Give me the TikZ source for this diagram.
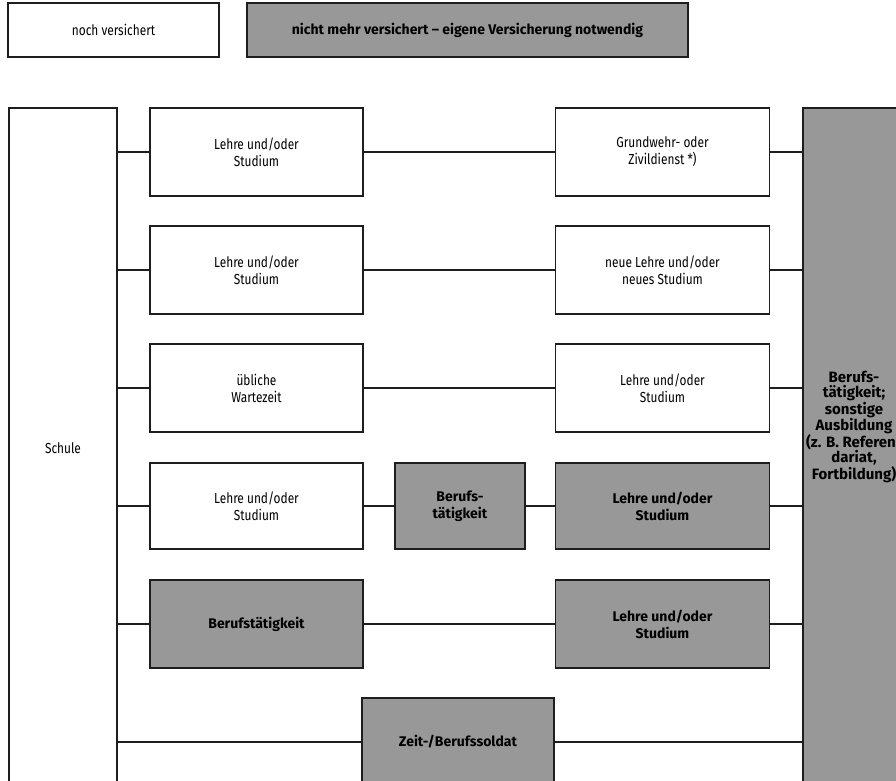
\documentclass[tikz,border=0pt]{standalone}
\usepackage{fontspec}
\setmainfont{Fira Sans}[FakeStretch=0.82]
\newfontfamily\boldfam{Fira Sans}[UprightFont=*-Bold, Ligatures=TeX]
\usetikzlibrary{positioning}
\definecolor{boxgray}{RGB}{152,152,152}
\definecolor{edge}{RGB}{30,30,30}
\begin{document}
\begin{tikzpicture}[x=1pt,y=-1pt,
  base/.style={draw=edge, line width=1.1pt, rectangle, inner sep=0pt, align=center},
  wbox/.style={base, fill=white, font=\fontsize{14.5}{17}\selectfont},
  gbox/.style={base, fill=boxgray, font=\boldfam\fontsize{14}{17}\selectfont},
  conn/.style={draw=edge, line width=1.1pt}]
\useasboundingbox (0,0) rectangle (896,780);
\clip (0,0) rectangle (896,780);
% legend
\node[wbox, minimum width=211pt, minimum height=54pt] (legw) at (113.5,30) {noch versichert};
\node[gbox, minimum width=441pt, minimum height=54pt] (legg) at (467.5,30) {nicht mehr versichert – eigene Versicherung notwendig};
% trunk boxes
\node[wbox, minimum width=108pt, minimum height=680pt] (schule) at (63,448) {Schule};
\node[gbox, minimum width=100pt, minimum height=680pt,
  label={[font=\boldfam\fontsize{15}{14.7}\selectfont, align=center, yshift=21pt, xshift=1pt]center:Berufs-\\tätigkeit;\\sonstige\\Ausbildung\\(z. B. Referen-\\dariat,\\Fortbildung)}] (big) at (853,448) {};
% row 1
\node[wbox, minimum width=213pt, minimum height=88pt] (a1) at (256.5,152) {Lehre und/oder\\Studium};
\node[wbox, minimum width=214pt, minimum height=88pt] (b1) at (662.5,152) {Grundwehr- oder\\Zivildienst *)};
% row 2
\node[wbox, minimum width=213pt, minimum height=88pt] (a2) at (256.5,270) {Lehre und/oder\\Studium};
\node[wbox, minimum width=214pt, minimum height=88pt] (b2) at (662.5,270) {neue Lehre und/oder\\neues Studium};
% row 3
\node[wbox, minimum width=213pt, minimum height=88pt] (a3) at (256.5,388) {übliche\\Wartezeit};
\node[wbox, minimum width=214pt, minimum height=88pt] (b3) at (662.5,388) {Lehre und/oder\\Studium};
% row 4
\node[wbox, minimum width=213pt, minimum height=86pt] (a4) at (256.5,506) {Lehre und/oder\\Studium};
\node[gbox, minimum width=130pt, minimum height=86pt] (m4) at (460,506) {Berufs-\\tätigkeit};
\node[gbox, minimum width=214pt, minimum height=86pt] (b4) at (662.5,506) {Lehre und/oder\\Studium};
% row 5
\node[gbox, minimum width=213pt, minimum height=88pt] (a5) at (256.5,624) {Berufstätigkeit};
\node[gbox, minimum width=214pt, minimum height=88pt] (b5) at (662.5,624) {Lehre und/oder\\Studium};
% row 6
\node[gbox, minimum width=192pt, minimum height=88pt] (z6) at (458,742) {Zeit-/Berufssoldat};
% connectors
\foreach \r in {1,2,3,4,5} {
  \draw[conn] (schule.east |- a\r.west) -- (a\r.west);
  \draw[conn] (b\r.east) -- (big.west |- b\r.east);
}
\draw[conn] (a1) -- (b1);
\draw[conn] (a2) -- (b2);
\draw[conn] (a3) -- (b3);
\draw[conn] (a4) -- (m4);
\draw[conn] (m4) -- (b4);
\draw[conn] (a5) -- (b5);
\draw[conn] (schule.east |- z6.west) -- (z6.west);
\draw[conn] (z6.east) -- (big.west |- z6.east);
\end{tikzpicture}
\end{document}
